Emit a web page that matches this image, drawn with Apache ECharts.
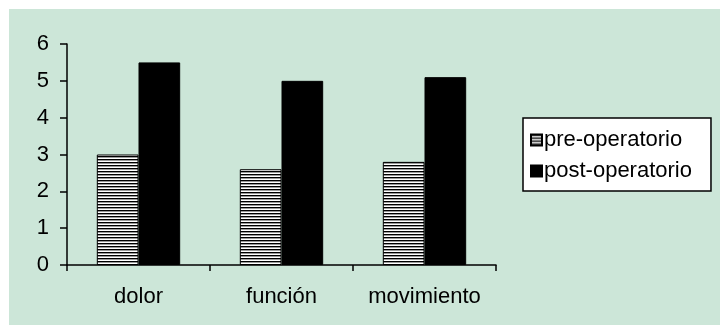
<!DOCTYPE html>
<html>
<head>
<meta charset="utf-8">
<script src="https://cdn.jsdelivr.net/npm/echarts@6/dist/echarts.min.js"></script>
<style>
  html, body { margin: 0; padding: 0; background: #ffffff; }
  #panel { position: absolute; left: 9px; top: 9px; width: 711px; height: 316px; background: #cce6d8; }
  #chart { position: absolute; left: 0; top: 0; width: 720px; height: 325px; }
</style>
</head>
<body>
<div id="panel"></div>
<div id="chart"></div>
<script>
// Scores before and after the operation, per evaluated aspect
const categories = ['dolor', 'función', 'movimiento'];
const seriesNames = ['pre-operatorio', 'post-operatorio'];
const preValues = [3.0, 2.6, 2.8];
const postValues = [5.5, 5.0, 5.1];
const yTicks = [0, 1, 2, 3, 4, 5, 6];

// Horizontal hatch fill for the pre-operative bars
function hatchPattern() {
  const c = document.createElement('canvas');
  c.width = 4; c.height = 3;
  const g = c.getContext('2d');
  const rows = ['#000000', '#9a9a9a', '#ffffff'];
  rows.forEach((col, i) => { g.fillStyle = col; g.fillRect(0, i, 4, 1); });
  return c;
}

const FONT = 'Liberation Sans, Arial, Helvetica, sans-serif';
const chart = echarts.init(document.getElementById('chart'), null, { renderer: 'canvas' });

chart.setOption({
  backgroundColor: 'transparent',
  animation: false,
  grid: { left: 67, top: 44, right: 224, bottom: 60, containLabel: false },
  legend: {
    orient: 'vertical',
    left: 523,
    top: 118,
    data: seriesNames,
    backgroundColor: '#ffffff',
    borderColor: '#000000',
    borderWidth: 1.5,
    borderRadius: 0,
    padding: [11, 19, 9, 7],
    itemGap: 9,
    itemWidth: 11,
    itemHeight: 11,
    icon: 'rect',
    textStyle: { fontFamily: FONT, fontSize: 22, color: '#000000', padding: [0, 0, 0, -3] }
  },
  xAxis: {
    type: 'category',
    data: categories,
    axisLine: { lineStyle: { color: '#000000', width: 1.5 } },
    axisTick: { show: true, interval: 0, length: 6, lineStyle: { color: '#000000', width: 1.5 } },
    axisLabel: { interval: 0, fontFamily: FONT, fontSize: 22, color: '#000000', margin: 21 },
    splitLine: { show: false }
  },
  yAxis: {
    type: 'value',
    min: yTicks[0],
    max: yTicks[yTicks.length - 1],
    interval: 1,
    axisLine: { show: true, lineStyle: { color: '#000000', width: 1.5 } },
    axisTick: { show: true, length: 7, lineStyle: { color: '#000000', width: 1.5 } },
    axisLabel: { fontFamily: FONT, fontSize: 22, color: '#000000', margin: 18 },
    splitLine: { show: false }
  },
  series: [
    {
      name: seriesNames[0],
      type: 'bar',
      data: preValues,
      barGap: '0%',
      barCategoryGap: '41.7%',
      itemStyle: {
        color: { image: hatchPattern(), repeat: 'repeat' },
        borderColor: '#000000',
        borderWidth: 1
      }
    },
    {
      name: seriesNames[1],
      type: 'bar',
      data: postValues,
      barGap: '0%',
      barCategoryGap: '41.7%',
      itemStyle: { color: '#000000', borderColor: '#000000', borderWidth: 1 }
    }
  ]
});
</script>
</body>
</html>
